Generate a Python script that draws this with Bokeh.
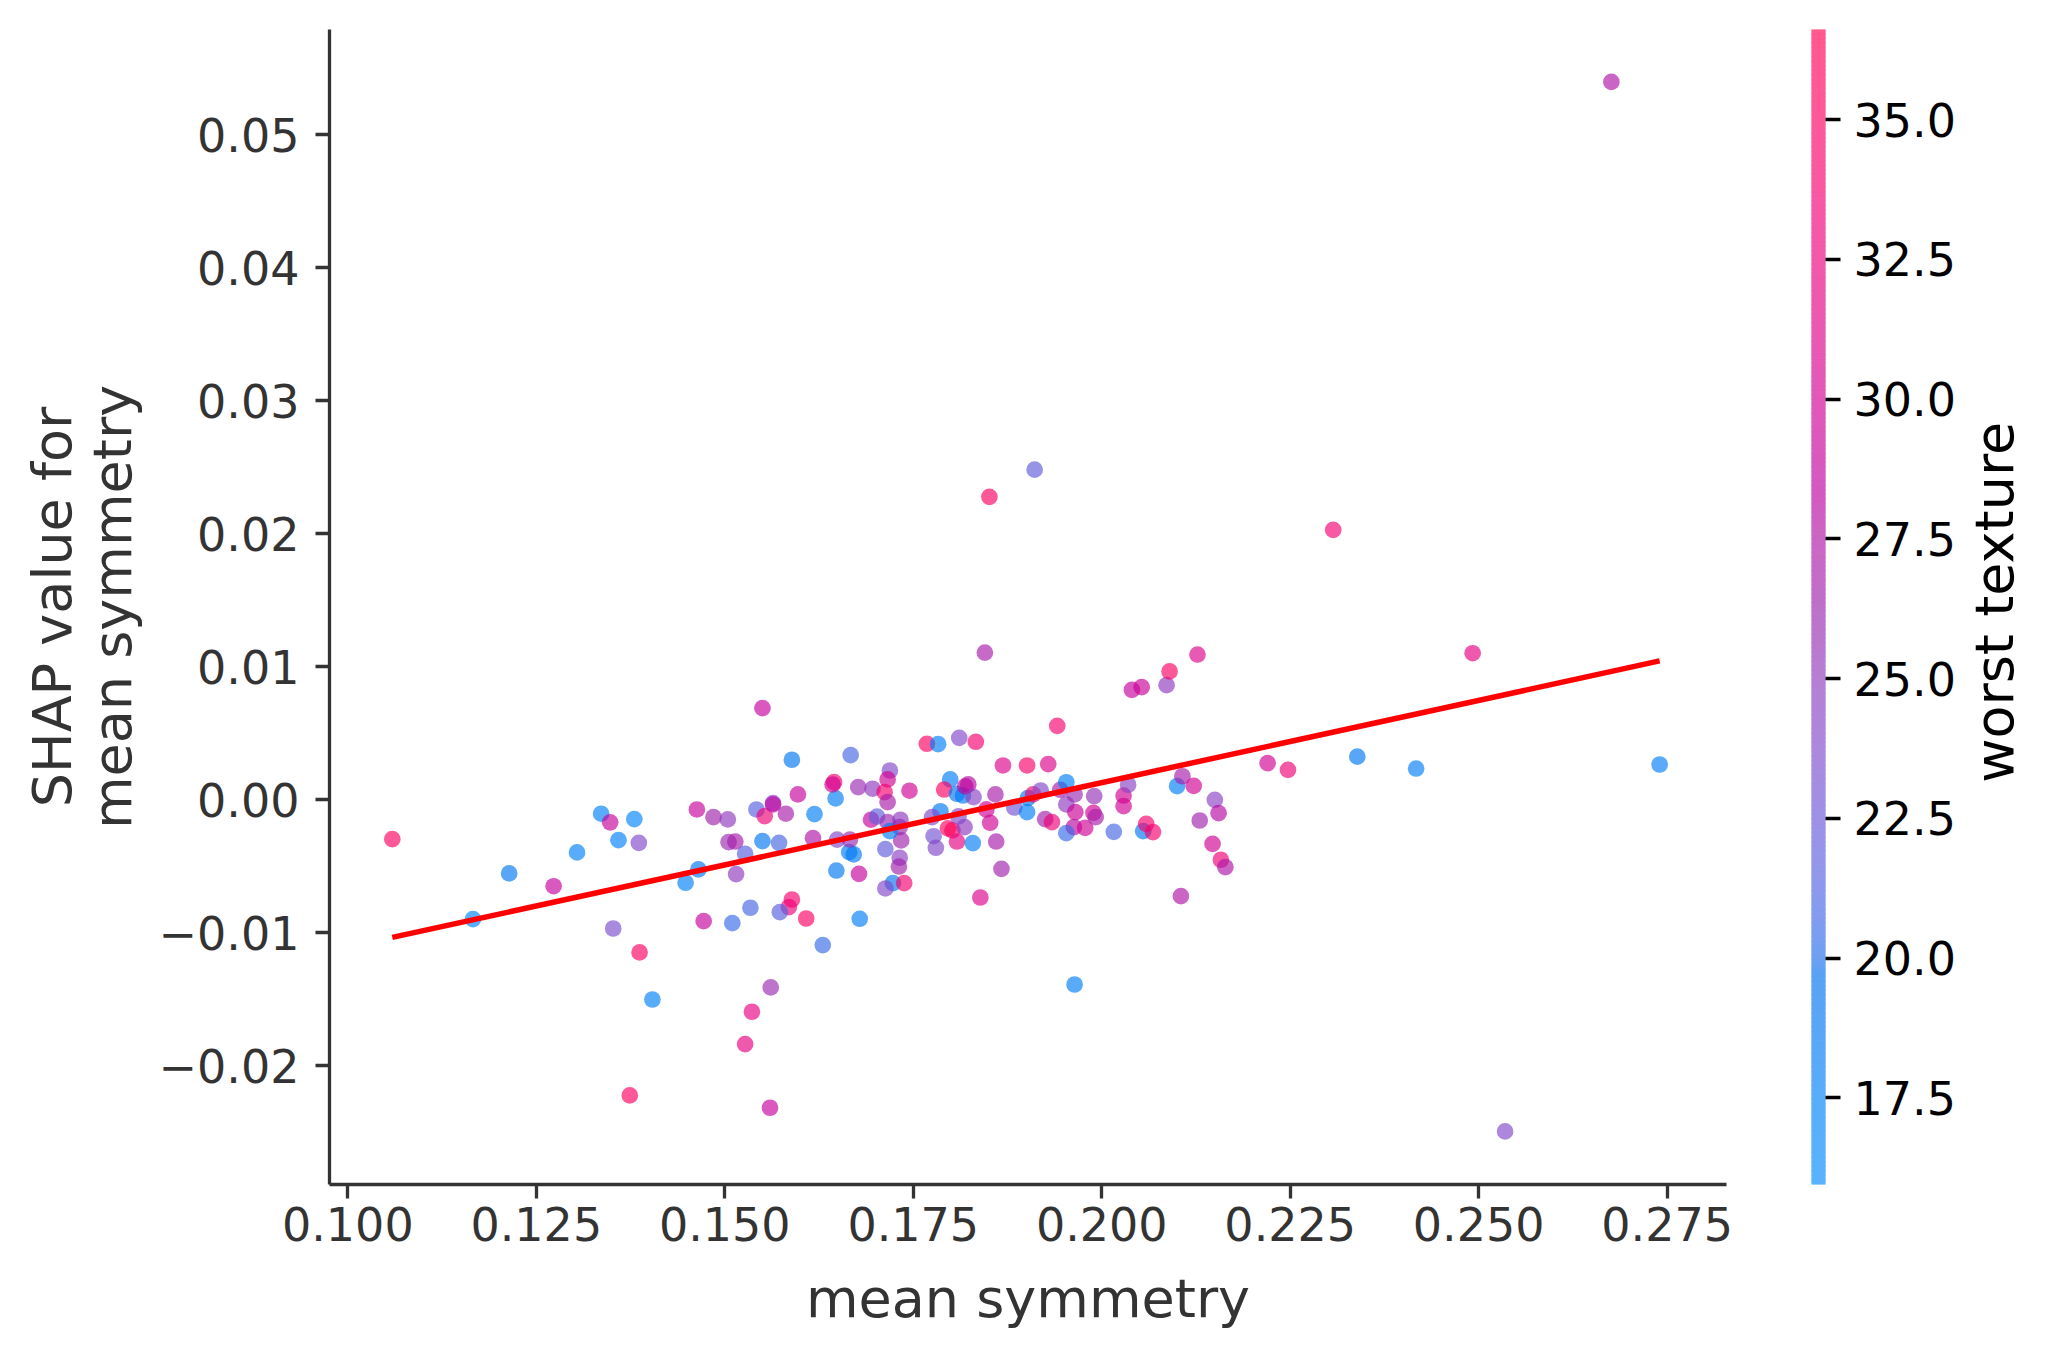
import math
import numpy as np
from bokeh.plotting import figure
from bokeh.models import Range1d, FixedTicker, LinearColorMapper, ColumnDataSource
from bokeh.core.properties import value
from bokeh.layouts import row
from bokeh.embed import file_html
from bokeh.resources import INLINE

# ---------------- data ----------------
mean_symmetry = [
    0.1059, 0.1166, 0.1214, 0.1273, 0.1304, 0.1336, 0.1348, 0.1380, 0.1359, 0.1386,
    0.1352, 0.1387, 0.1404, 0.1374, 0.1448, 0.1465, 0.1463, 0.1472, 0.1485, 0.1504,
    0.1505, 0.1514, 0.1527, 0.1515, 0.1510, 0.1534, 0.1542, 0.1553, 0.1564, 0.1564,
    0.1550, 0.1550, 0.1572, 0.1589, 0.1597, 0.1581, 0.1619, 0.1617, 0.1589, 0.1585,
    0.1573, 0.1608, 0.1630, 0.1561, 0.1536, 0.1527, 0.1560, 0.1647, 0.1645, 0.1643,
    0.1667, 0.1648, 0.1649, 0.1665, 0.1671, 0.1666, 0.1677, 0.1678, 0.1679,
    0.1696, 0.1719, 0.1716, 0.1712, 0.1716, 0.1694, 0.1702, 0.1716, 0.1733, 0.1732,
    0.1734, 0.1719, 0.1713, 0.1732, 0.1731, 0.1723, 0.1713, 0.1738, 0.1745, 0.1768,
    0.1783, 0.1811, 0.1833, 0.1799, 0.1791, 0.1808, 0.1816, 0.1819, 0.1823, 0.1830,
    0.1859, 0.1869, 0.1901, 0.1929, 0.1941, 0.1786, 0.1775, 0.1777, 0.1780, 0.1796,
    0.1802, 0.1808, 0.1818, 0.1810, 0.1829, 0.1847, 0.1852, 0.1860, 0.1867, 0.1839,
    0.1884, 0.1901, 0.1902, 0.1909, 0.1919, 0.1925, 0.1934, 0.1945, 0.1953, 0.1953,
    0.1964, 0.1965, 0.1963, 0.1953, 0.1978, 0.1990, 0.1989, 0.1992, 0.2016, 0.1964,
    0.2029, 0.2029, 0.2035, 0.2055, 0.2059, 0.2068, 0.2040, 0.2053, 0.2086, 0.2090,
    0.2100, 0.2107, 0.2122, 0.2150, 0.2155, 0.2130, 0.2147, 0.2158, 0.2164, 0.2105,
    0.2220, 0.2247, 0.2127, 0.2676, 0.1911, 0.1851, 0.1845, 0.2307, 0.2492, 0.2339,
    0.2417, 0.2740, 0.2535,
]
shap_values = [
    -0.00296, -0.00898, -0.00554, -0.00650, -0.00396, -0.00105, -0.00170, -0.00146, -0.00304, -0.00324,
    -0.00968, -0.01148, -0.01502, -0.02223, -0.00624, -0.00524, -0.00073, -0.00913, -0.00131, -0.00148,
    -0.00319, -0.00314, -0.00406, -0.00559, -0.00928, -0.00812, -0.00073, -0.00123, -0.00025, -0.00035,
    0.00689, -0.00311, -0.00324, 0.00301, 0.00040, -0.00105, -0.00108, -0.00289, -0.00750, -0.00807,
    -0.00845, -0.00893, -0.01093, -0.01411, -0.01594, -0.01838, -0.02316, 0.00010, 0.00132, 0.00115,
    0.00336, -0.00532, -0.00299, -0.00394, -0.00411, -0.00299, 0.00095, -0.00557, -0.00895,
    0.00083, 0.00220, 0.00153, 0.00057, -0.00018, -0.00150, -0.00126, -0.00168, -0.00150, -0.00206,
    -0.00306, -0.00236, -0.00371, -0.00436, -0.00502, -0.00627, -0.00667, -0.00627, 0.00068, 0.00421,
    0.00418, 0.00466, 0.00436, 0.00153, 0.00077, 0.00045, 0.00032, 0.00100, 0.00115, 0.00020,
    0.00040, 0.00258, 0.00258, 0.00268, 0.00556, -0.00086, -0.00131, -0.00274, -0.00361, -0.00215,
    -0.00230, -0.00314, -0.00206, -0.00125, -0.00326, -0.00073, -0.00173, -0.00314, -0.00519, -0.00735,
    -0.00058, -0.00093, 0.00012, 0.00040, 0.00070, -0.00146, -0.00168, 0.00075, 0.00132, -0.00035,
    0.00040, -0.00093, -0.00206, -0.00251, -0.00211, 0.00027, -0.00098, -0.00131, -0.00241, -0.01389,
    0.00032, -0.00048, 0.00113, -0.00236, -0.00181, -0.00243, 0.00827, 0.00847, 0.00862, 0.00965,
    0.00102, 0.00177, 0.00105, 0.00000, -0.00101, -0.00156, -0.00331, -0.00451, -0.00507, -0.00725,
    0.00275, 0.00225, 0.01092, 0.05398, 0.02482, 0.02278, 0.01107, 0.02029, 0.01102, 0.00324,
    0.00235, 0.00265, -0.02494,
]
worst_texture = [
    35, 17, 19, 29, 17.5, 17.5, 29, 17, 17.5, 24,
    23.5, 35, 17.5, 35, 17.5, 19, 29, 29, 26.5, 25,
    26, 27, 21.5, 25, 20.5, 21, 21.5, 33, 24, 29,
    29, 19, 21, 19, 29, 27, 18, 27.5, 34, 33,
    21.5, 35, 20.5, 26, 32, 32, 29, 18, 34, 30,
    21, 19, 24, 18, 18.5, 26, 26, 29, 18,
    25, 24, 30, 34, 27, 29, 22, 26, 25, 26,
    26.5, 18, 22, 24.5, 26.5, 19, 24, 34, 30, 35,
    18, 24, 34, 18, 35, 19, 18.5, 29.5, 28, 24.5,
    27, 31, 34.5, 31, 34, 19, 24, 23, 24, 35,
    36, 32, 25, 24, 18, 30, 30, 27, 26.5, 31,
    23, 18, 18, 34, 24, 26.5, 33, 27, 18, 25,
    26, 29.5, 28, 20.5, 30, 25.5, 30, 27, 21, 18,
    30, 30, 24.5, 19, 34, 34, 29, 29.5, 25, 35,
    18, 27, 30, 24.5, 28, 26.5, 30, 33, 27.5, 27.5,
    30, 33, 31, 27.5, 22, 35, 27, 33.5, 32, 19,
    18, 18, 24,
]
fit_x = [0.1059, 0.2740]
fit_y = [-0.01035, 0.01044]

x_ticks = [0.100, 0.125, 0.150, 0.175, 0.200, 0.225, 0.250, 0.275]
x_tick_labels = ["0.100", "0.125", "0.150", "0.175", "0.200", "0.225", "0.250", "0.275"]
y_ticks = [-0.02, -0.01, 0.0, 0.01, 0.02, 0.03, 0.04, 0.05]
y_tick_labels = ["\u22120.02", "\u22120.01", "0.00", "0.01", "0.02", "0.03", "0.04", "0.05"]
cbar_ticks = [17.5, 20.0, 22.5, 25.0, 27.5, 30.0, 32.5, 35.0]
cbar_tick_labels = ["17.5", "20.0", "22.5", "25.0", "27.5", "30.0", "32.5", "35.0"]
cbar_low, cbar_high = 15.95, 36.61

x_label = "mean symmetry"
y_label = "SHAP value for\nmean symmetry"
c_label = "worst texture"

# ---------------- SHAP red_blue colour map (Lch interpolation) ----------------
def lab2rgb(L, a, b):
    fy = (L + 16.0) / 116.0
    fx = fy + a / 500.0
    fz = fy - b / 200.0

    def finv(t):
        return t ** 3 if t ** 3 > 0.008856 else (t - 16.0 / 116.0) / 7.787

    X, Y, Z = 0.95047 * finv(fx), finv(fy), 1.08883 * finv(fz)
    r = 3.2404542 * X - 1.5371385 * Y - 0.4985314 * Z
    g = -0.9692660 * X + 1.8760108 * Y + 0.0415560 * Z
    bl = 0.0556434 * X - 0.2040259 * Y + 1.0572252 * Z
    out = []
    for v in (r, g, bl):
        v = 1.055 * v ** (1 / 2.4) - 0.055 if v > 0.0031308 else 12.92 * v
        out.append(min(max(v, 0.0), 1.0))
    return out


def to_hex(rgb):
    return "#%02x%02x%02x" % tuple(int(round(255 * v)) for v in rgb)


ALPHA = 0.65
N = 256
palette, palette_blend = [], []
for i in range(N):
    t = i / (N - 1)
    l = 54 + (40 - 54) * 2 * t if t <= 0.5 else 40 + (54 - 40) * 2 * (t - 0.5)
    c = 70 + 20 * t
    h = 4.6588 + (0.35470565 + 2 * math.pi - 4.6588) * t
    rgb = lab2rgb(l, c * math.cos(h), c * math.sin(h))
    palette.append(to_hex(rgb))
    palette_blend.append(to_hex([1 - ALPHA * (1 - v) for v in rgb]))

mapper = LinearColorMapper(palette=palette, low=cbar_low, high=cbar_high)

AXC = "#333333"
FONT = "DejaVu Sans"
H = 1349

# ---------------- main scatter ----------------
p = figure(width=1773, height=H,
           x_range=Range1d(0.09757, 0.28287), y_range=Range1d(-0.02893, 0.05792),
           toolbar_location=None, output_backend="svg",
           min_border_left=329, min_border_right=47, min_border_top=29, min_border_bottom=165)
p.outline_line_color = None
p.grid.visible = False
p.background_fill_color = "white"
p.border_fill_color = "white"

src = ColumnDataSource(dict(x=mean_symmetry, y=shap_values, c=worst_texture))
p.scatter("x", "y", source=src, size=16.7,
          fill_color={"field": "c", "transform": mapper}, fill_alpha=ALPHA, line_color=None)
p.line(fit_x, fit_y, line_color="#ff0000", line_width=5.5)

for ax in (p.xaxis[0], p.yaxis[0]):
    ax.axis_line_color = AXC
    ax.axis_line_width = 3.3
    ax.major_tick_line_color = AXC
    ax.major_tick_line_width = 3.3
    ax.major_tick_out = 14
    ax.major_tick_in = 0
    ax.minor_tick_line_color = None
    ax.major_label_text_font = FONT
    ax.major_label_text_font_size = "46px"
    ax.major_label_text_color = AXC
    ax.axis_label_text_font = FONT
    ax.axis_label_text_font_size = "54px"
    ax.axis_label_text_color = AXC
    ax.axis_label_text_font_style = "normal"

p.xaxis[0].ticker = FixedTicker(ticks=x_ticks)
p.xaxis[0].major_label_overrides = dict(zip(x_ticks, x_tick_labels))
p.xaxis[0].axis_label = x_label
p.xaxis[0].major_label_standoff = 8
p.xaxis[0].axis_label_standoff = 23

p.yaxis[0].ticker = FixedTicker(ticks=y_ticks)
p.yaxis[0].major_label_overrides = dict(zip(y_ticks, y_tick_labels))
p.yaxis[0].axis_label = y_label
p.yaxis[0].axis_label_text_line_height = 0.95
p.yaxis[0].major_label_standoff = 16
p.yaxis[0].axis_label_standoff = 12

# ---------------- colour bar ----------------
CBW = 188
cb = figure(width=CBW, height=H,
            x_range=Range1d(0, 1), y_range=Range1d(cbar_low, cbar_high),
            x_axis_location=None, y_axis_location="right",
            toolbar_location=None, output_backend="svg",
            min_border_left=38, min_border_right=CBW - 38 - 14, min_border_top=29, min_border_bottom=165)
cb.outline_line_color = None
cb.grid.visible = False
cb.border_fill_color = "white"

edges = np.linspace(cbar_low, cbar_high, N + 1)
cb.quad(left=0, right=1, bottom=edges[:-1], top=edges[1:],
        fill_color=palette_blend, line_color=palette_blend, line_width=1)

cax = cb.yaxis[0]
cax.ticker = FixedTicker(ticks=cbar_ticks)
cax.major_label_overrides = dict(zip(cbar_ticks, cbar_tick_labels))
cax.axis_line_color = None
cax.major_tick_line_color = "black"
cax.major_tick_line_width = 3.3
cax.major_tick_out = 15
cax.major_tick_in = 0
cax.minor_tick_line_color = None
cax.major_label_text_font = FONT
cax.major_label_text_font_size = "46px"
cax.major_label_text_color = "black"
cax.major_label_standoff = 13

# ---------------- colour bar label (rotated, reads bottom to top) ----------------
LW = 2055 - 1773 - CBW
lb = figure(width=LW, height=H, x_range=Range1d(0, LW), y_range=Range1d(0, H),
            x_axis_location=None, y_axis_location=None,
            toolbar_location=None, output_backend="svg",
            min_border_left=0, min_border_right=0, min_border_top=0, min_border_bottom=0)
lb.outline_line_color = None
lb.grid.visible = False
lb.border_fill_color = "white"
lb.text(x=[33], y=[H - 669], text=[c_label], angle=math.pi / 2,
        text_font=value(FONT), text_font_size="54px", text_color="black",
        text_align="center", text_baseline="middle")

layout = row(p, cb, lb)
open("out.html", "w").write(file_html(layout, INLINE))
